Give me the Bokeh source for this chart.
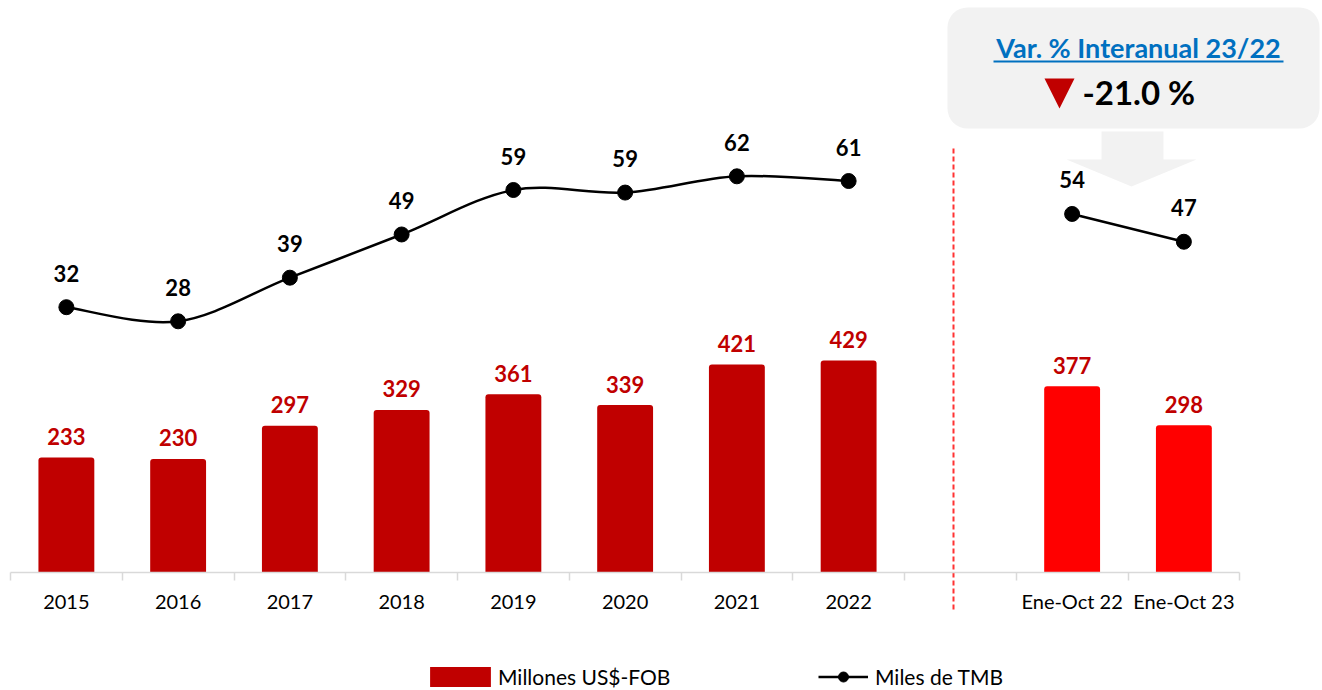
import numpy as np
from bokeh.plotting import figure
from bokeh.models import Range1d, LinearAxis, FixedTicker, Legend, LegendItem
from bokeh.core.properties import value
from bokeh.embed import file_html
from bokeh.resources import INLINE

# ---------------- data ----------------
categories = ["2015", "2016", "2017", "2018", "2019", "2020", "2021", "2022",
              "", "Ene-Oct 22", "Ene-Oct 23"]
annual_labels = ["2015", "2016", "2017", "2018", "2019", "2020", "2021", "2022"]
period_labels = ["Ene-Oct 22", "Ene-Oct 23"]
usd_annual = [233, 230, 297, 329, 361, 339, 421, 429]      # Millones US$-FOB
usd_period = [377, 298]
tmb_annual = [31.8, 28.5, 38.7, 48.8, 59.2, 58.6, 62.4, 61.3]  # Miles de TMB
tmb_period = [53.6, 47.1]
var_title = "Var. % Interanual 23/22"
var_pct = -21.0

# ---------------- geometry helpers (pixel layout) ----------------
W, H = 1322, 690
X0_PX, SLOT_PX = 10.0, 111.75
Y0_PX, USD_PX = 572.0, 0.494
TMB0_PX, TMB_PX = 442.7, 4.277

def px_x(px):
    return (px - X0_PX) / SLOT_PX

def px_y(py):
    return (Y0_PX - py) / USD_PX

FONT = value("Lato")
DARK_RED = "#C00000"
RED = "#FF0000"

p = figure(width=W, height=H,
           x_range=Range1d(-X0_PX / SLOT_PX, (W - X0_PX) / SLOT_PX),
           y_range=Range1d(-(H - Y0_PX) / USD_PX, Y0_PX / USD_PX),
           x_axis_type=None, y_axis_type=None,
           toolbar_location=None, output_backend="svg",
           min_border=0, outline_line_color=None)
p.extra_y_ranges = {"sec": Range1d(-(H - TMB0_PX) / TMB_PX, TMB0_PX / TMB_PX)}
p.background_fill_color = "white"
p.border_fill_color = "white"

xa = [categories.index(c) + 0.5 for c in annual_labels]
xp = [categories.index(c) + 0.5 for c in period_labels]

# ---------------- callout ----------------
p.quad(left=px_x(947), right=px_x(1319), top=px_y(7), bottom=px_y(128),
       fill_color="#F2F2F2", line_color=None, border_radius=20)
arrow_px = [(1101, 131), (1163, 131), (1163, 159), (1196, 159),
            (1131, 186), (1066, 159), (1101, 159)]
p.patch([px_x(a) for a, b in arrow_px], [px_y(b) for a, b in arrow_px],
        fill_color="#F2F2F2", line_color=None)
p.text(x=[px_x(1138)], y=[px_y(47)], text=[var_title], text_font=FONT,
       text_font_style="bold", text_font_size="27px", text_color="#0070C0",
       text_align="center", text_baseline="middle")
p.segment(x0=[px_x(993)], x1=[px_x(1283)], y0=[px_y(61)], y1=[px_y(61)],
          line_color="#0070C0", line_width=2)
tri_px = [(1044, 78), (1074, 78), (1059, 108)]
p.patch([px_x(a) for a, b in tri_px], [px_y(b) for a, b in tri_px],
        fill_color=DARK_RED, line_color=None)
p.text(x=[px_x(1082)], y=[px_y(91)], text=[f"{var_pct:.1f} %"], text_font=FONT,
       text_font_style="bold", text_font_size="33px", text_color="black",
       text_align="left", text_baseline="middle")

# ---------------- separator ----------------
p.segment(x0=[px_x(953)], x1=[px_x(953)], y0=[px_y(148)], y1=[px_y(611)],
          line_color="#FF3333", line_width=2, line_dash="5 3")

# ---------------- bars ----------------
bars_a = p.vbar(x=xa, top=usd_annual, bottom=0, width=0.5,
                fill_color=DARK_RED, line_color=None, border_radius=(3, 3, 0, 0))
bars_p = p.vbar(x=xp, top=usd_period, bottom=0, width=0.5,
                fill_color=RED, line_color=None, border_radius=(3, 3, 0, 0))
p.text(x=xa + xp, y=usd_annual + usd_period,
       text=[f"{v:.0f}" for v in usd_annual + usd_period],
       text_font=FONT, text_font_style="bold", text_font_size="22px",
       text_color=DARK_RED, text_align="center", text_baseline="middle",
       y_offset=-21)

# ---------------- smoothed line (Excel-like Catmull-Rom -> Bezier) ----------------
def bezier_parts(xs, ys):
    pts = np.column_stack([xs, ys]).astype(float)
    n = len(pts)
    out = {k: [] for k in ("x0", "y0", "x1", "y1", "cx0", "cy0", "cx1", "cy1")}
    for i in range(n - 1):
        p0 = pts[i - 1] if i > 0 else pts[i]
        p1, p2 = pts[i], pts[i + 1]
        p3 = pts[i + 2] if i + 2 < n else pts[i + 1]
        c1 = p1 + (p2 - p0) / 6.0
        c2 = p2 - (p3 - p1) / 6.0
        out["x0"].append(p1[0]); out["y0"].append(p1[1])
        out["x1"].append(p2[0]); out["y1"].append(p2[1])
        out["cx0"].append(c1[0]); out["cy0"].append(c1[1])
        out["cx1"].append(c2[0]); out["cy1"].append(c2[1])
    return out

bz = bezier_parts(xa, tmb_annual)
p.bezier(line_color="black", line_width=2.5, y_range_name="sec", **bz)
line_p = p.line(x=xp, y=tmb_period, line_color="black", line_width=2.5,
                y_range_name="sec")
dots = p.scatter(x=xa + xp, y=tmb_annual + tmb_period, size=15, marker="circle",
                 fill_color="black", line_color="black", y_range_name="sec")
p.text(x=xa + xp, y=tmb_annual + tmb_period,
       text=[f"{round(v)}" for v in tmb_annual + tmb_period],
       text_font=FONT, text_font_style="bold", text_font_size="22px",
       text_color="black", text_align="center", text_baseline="middle",
       y_offset=-34, y_range_name="sec")

# ---------------- x axis ----------------
n = len(categories)
centers = [i + 0.5 for i in range(n)]
ax = LinearAxis(fixed_location=0, bounds=(0, n))
ax.ticker = FixedTicker(ticks=centers, minor_ticks=list(range(n + 1)))
ax.major_label_overrides = {c: lab for c, lab in zip(centers, categories)}
ax.axis_line_color = "#D9D9D9"
ax.axis_line_width = 1.5
ax.major_tick_line_color = None
ax.major_tick_out = 0
ax.major_tick_in = 0
ax.minor_tick_line_color = "#D9D9D9"
ax.minor_tick_line_width = 1.5
ax.minor_tick_out = 8
ax.minor_tick_in = 0
ax.major_label_text_font = "Lato"
ax.major_label_text_font_size = "20px"
ax.major_label_text_color = "black"
ax.major_label_standoff = 8
p.add_layout(ax, "below")

# ---------------- legends ----------------
common = dict(orientation="horizontal", glyph_height=25,
              padding=0, margin=0, border_line_color=None,
              background_fill_alpha=0, label_text_font="Lato",
              label_text_font_size="21px", label_text_color="black")
leg1 = Legend(items=[LegendItem(label="Millones US$-FOB", renderers=[bars_a])],
              location=(422, 1), glyph_width=76, label_standoff=-5, **common)
leg2 = Legend(items=[LegendItem(label="Miles de TMB", renderers=[line_p, dots])],
              location=(818, 1), glyph_width=50, label_standoff=7, **common)
p.add_layout(leg1)
p.add_layout(leg2)

open("out.html", "w").write(file_html(p, INLINE))
